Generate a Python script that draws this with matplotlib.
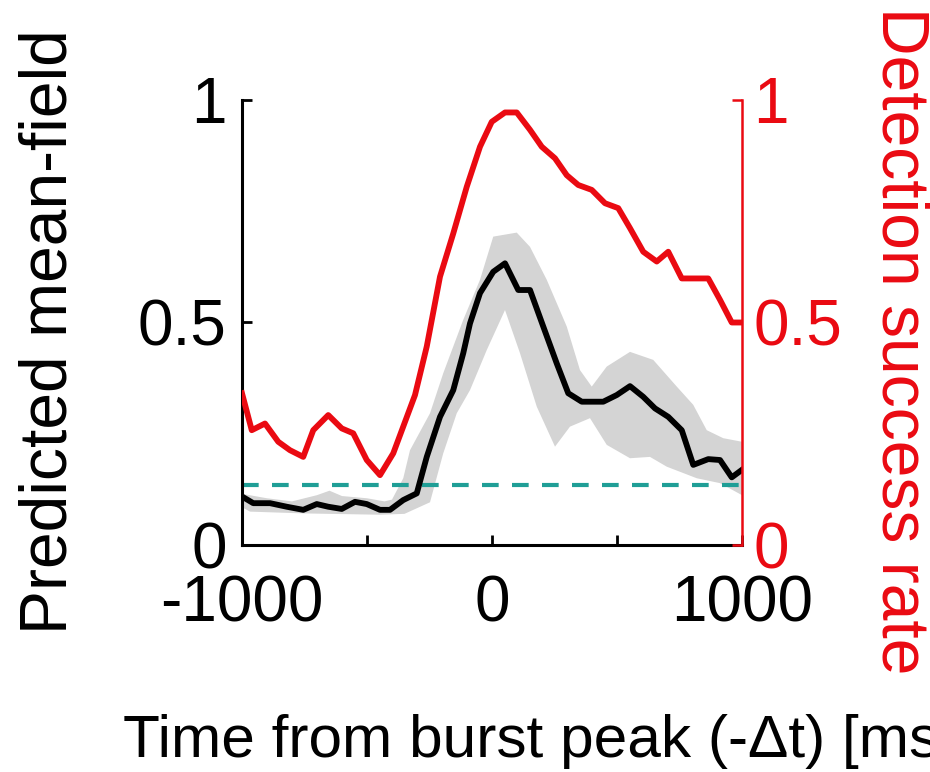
import numpy as np
import matplotlib
matplotlib.use("Agg")
import matplotlib.pyplot as plt

plt.rcParams['font.family'] = ['Liberation Sans', 'DejaVu Sans']

# ---- data ----
red_t = [-1000, -961, -908, -855, -808, -755, -715, -655, -601, -555, -501, -448, -395,
         -308, -261, -208, -155, -101, -48, -1, 52, 99, 152, 199, 252, 299, 345, 399,
         452, 505, 552, 605, 659, 705, 759, 812, 865, 912, 959, 1000]
red_y = [0.341, 0.258, 0.273, 0.232, 0.213, 0.198, 0.258, 0.292, 0.262, 0.251, 0.191,
         0.157, 0.206, 0.337, 0.446, 0.603, 0.700, 0.805, 0.895, 0.951, 0.972, 0.972,
         0.933, 0.895, 0.869, 0.831, 0.809, 0.798, 0.768, 0.757, 0.712, 0.659, 0.637,
         0.659, 0.599, 0.599, 0.599, 0.551, 0.500, 0.500]

blk_t = [-1000, -955, -888, -821, -755, -701, -655, -601, -548, -501, -448, -408, -355,
         -301, -261, -208, -155, -115, -88, -48, 5, 52, 105, 152, 205, 259, 305, 359,
         445, 499, 552, 605, 652, 705, 759, 805, 865, 912, 959, 1000]
blk_y = [0.109, 0.094, 0.094, 0.086, 0.079, 0.092, 0.086, 0.081, 0.097, 0.092, 0.079,
         0.079, 0.101, 0.116, 0.198, 0.288, 0.348, 0.431, 0.498, 0.566, 0.614, 0.633,
         0.573, 0.573, 0.491, 0.408, 0.341, 0.322, 0.322, 0.337, 0.357, 0.333, 0.307,
         0.288, 0.258, 0.180, 0.193, 0.191, 0.152, 0.169]

band_up_t = [-1000, -900, -800, -700, -650, -600, -500, -430, -400, -355, -328, -248,
             -195, -115, -48, 5, 99, 152, 219, 299, 352, 399, 459, 552, 645, 739, 805,
             859, 925, 1000]
band_up_y = [0.115, 0.105, 0.098, 0.112, 0.122, 0.110, 0.105, 0.098, 0.102, 0.150,
             0.213, 0.296, 0.386, 0.506, 0.596, 0.693, 0.702, 0.670, 0.596, 0.491,
             0.393, 0.356, 0.401, 0.434, 0.416, 0.356, 0.315, 0.258, 0.240, 0.232]

band_lo_t = [-1000, -968, -755, -448, -350, -248, -195, -141, -88, -21, 52, 112, 179,
             252, 312, 392, 459, 552, 632, 699, 819, 912, 1000]
band_lo_y = [0.085, 0.075, 0.071, 0.068, 0.070, 0.096, 0.206, 0.296, 0.348, 0.438,
             0.528, 0.431, 0.311, 0.221, 0.266, 0.285, 0.225, 0.195, 0.198, 0.176,
             0.150, 0.139, 0.112]

chance_level = 0.135

x_ticks = [-1000, -500, 0, 500, 1000]
x_tick_labels = ['-1000', '', '0', '', '1000']
y_ticks = [0, 0.5, 1]
y_tick_labels = ['0', '0.5', '1']

# ---- figure ----
W, H = 930, 772
fig = plt.figure(figsize=(W / 100, H / 100), dpi=100)
x0, x1 = 242, 742
ytop, ybot = 100, 545
ax = fig.add_axes([x0 / W, 1 - ybot / H, (x1 - x0) / W, (ybot - ytop) / H])
ax2 = ax.twinx()

RED = '#ea0a12'
TEAL = '#1f9e96'
GRAY = '#d4d4d4'

poly_x = np.concatenate([band_up_t, band_lo_t[::-1]])
poly_y = np.concatenate([band_up_y, band_lo_y[::-1]])
ax.fill(poly_x, poly_y, color=GRAY, lw=0, zorder=1)
ax.axhline(chance_level, color=TEAL, lw=3, dashes=(4, 3.2), zorder=2)
ax.plot(blk_t, blk_y, color='black', lw=4.2, zorder=3)
ax2.plot(red_t, red_y, color=RED, lw=4.2, zorder=3)

for a in (ax, ax2):
    a.set_xlim(-1000, 1000)
    a.set_ylim(0, 1)
    a.spines['top'].set_visible(False)

ax.spines['left'].set_linewidth(2.2)
ax.spines['bottom'].set_linewidth(2.2)
ax.spines['right'].set_visible(False)
ax2.spines['left'].set_visible(False)
ax2.spines['bottom'].set_visible(False)
ax2.spines['right'].set_color(RED)
ax2.spines['right'].set_linewidth(1.8)

ax.set_xticks(x_ticks)
ax.set_xticklabels(x_tick_labels)
ax.set_yticks(y_ticks)
ax.set_yticklabels(y_tick_labels)
ax2.set_yticks(y_ticks)
ax2.set_yticklabels(y_tick_labels)

ax.tick_params(axis='x', direction='in', length=7, width=2, labelsize=46, pad=21,
               colors='black')
ax.tick_params(axis='y', direction='in', length=7, width=2, labelsize=46, pad=11,
               colors='black')
ax2.tick_params(axis='y', direction='in', length=7, width=1.8, labelsize=46, pad=8,
                colors=RED)

fig.text(50 / W, 1 - 331.5 / H, 'Predicted mean-field', rotation=90, fontsize=47.5,
         ha='center', va='center', color='black')
fig.text(899 / W, 1 - 341 / H, 'Detection success rate', rotation=270, fontsize=47.5,
         ha='center', va='center', color=RED)
fig.text(123 / W, 1 - 757 / H, 'Time from burst peak (-\u0394t) [ms]', fontsize=43.5,
         ha='left', va='baseline', color='black')

fig.savefig('out.png', dpi=100)
